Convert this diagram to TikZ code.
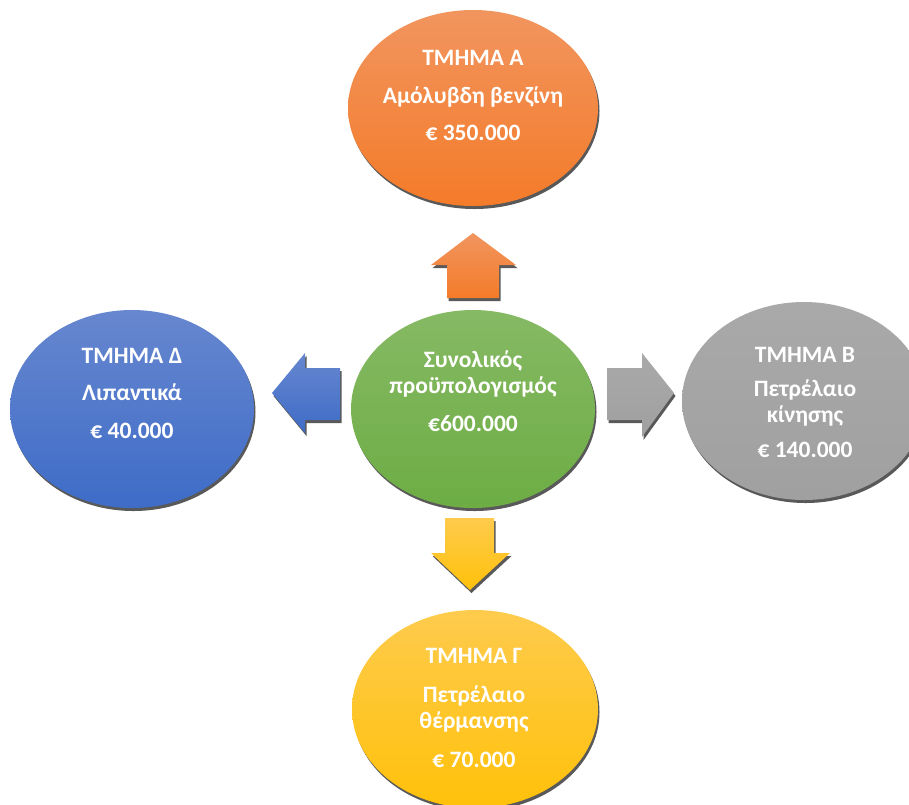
\documentclass[tikz,border=0pt]{standalone}
\usepackage{fontspec}
\setmainfont{Carlito}
\usetikzlibrary{shapes.geometric,shadows}

\definecolor{orangeT}{HTML}{F1955F}
\definecolor{orangeB}{HTML}{F47B29}
\definecolor{greenT}{HTML}{86B964}
\definecolor{greenB}{HTML}{6DAD44}
\definecolor{blueT}{HTML}{6787CF}
\definecolor{blueB}{HTML}{3E6CC7}
\definecolor{grayT}{HTML}{A9A9A9}
\definecolor{grayB}{HTML}{A0A0A0}
\definecolor{goldT}{HTML}{FECB4D}
\definecolor{goldB}{HTML}{FFC10A}

\tikzset{
  shade/.style={drop shadow={shadow xshift=1.5pt, shadow yshift=-3pt, fill=black!65, opacity=1}},
  oval/.style={ellipse, shade, minimum width=244pt, minimum height=198pt, inner sep=0pt},
  txt/.style={anchor=base, align=center, text=white, font=\bfseries\fontsize{23.5}{26}\selectfont},
  blockarrow/.style={shade}
}

\begin{document}
\begin{tikzpicture}[x=1pt,y=-1pt]
\useasboundingbox (0,0) rectangle (909,804);
\clip (0,0) rectangle (909,804);

% ovals
\node [oval, top color=orangeT, bottom color=orangeB, minimum width=250pt, minimum height=196pt] (ovalA) at (473,108) {};
\node [oval, top color=greenT, bottom color=greenB] (ovalC) at (473,409) {};
\node [oval, top color=blueT, bottom color=blueB] (ovalD) at (132,409) {};
\node [oval, top color=grayT, bottom color=grayB] (ovalB) at (804,401) {};
\node [oval, top color=goldT, bottom color=goldB, minimum width=246pt] (ovalG) at (475,709) {};

% block arrows
\path [blockarrow, top color=orangeT, bottom color=orangeB]
  (473,233) -- (516,265) -- (499,265) -- (499,298) -- (447,298) -- (447,265) -- (431,265) -- cycle;
\path [blockarrow, top color=blueT, bottom color=blueB]
  (272,393) -- (305,353) -- (305,368) -- (340,368) -- (340,420) -- (305,420) -- (305,433) -- cycle;
\path [blockarrow, top color=grayT, bottom color=grayB]
  (674,393) -- (642,437) -- (642,420) -- (607,420) -- (607,368) -- (642,368) -- (642,353) -- cycle;
\path [blockarrow, top color=goldT, bottom color=goldB]
  (470,590) -- (431,553) -- (445,553) -- (445,518) -- (494,518) -- (494,553) -- (510,553) -- cycle;

% texts (anchored at the last baseline)
\node [txt] (txtA) at (473,140) {ΤΜΗΜΑ Α\\[12pt] Αμόλυβδη βενζίνη\\[11pt] € 350.000};
\node [txt] (txtC) at (473,431) {Συνολικός\\ προϋπολογισμός\\[12pt] €600.000};
\node [txt] (txtD) at (132,438) {ΤΜΗΜΑ Δ\\[11pt] Λιπαντικά\\[12pt] € 40.000};
\node [txt] (txtB) at (805,457) {ΤΜΗΜΑ Β\\[8pt] Πετρέλαιο\\ κίνησης\\[9pt] € 140.000};
\node [txt] (txtG) at (474,767) {ΤΜΗΜΑ Γ\\[13pt] Πετρέλαιο\\ θέρμανσης\\[13pt] € 70.000};
\end{tikzpicture}
\end{document}
